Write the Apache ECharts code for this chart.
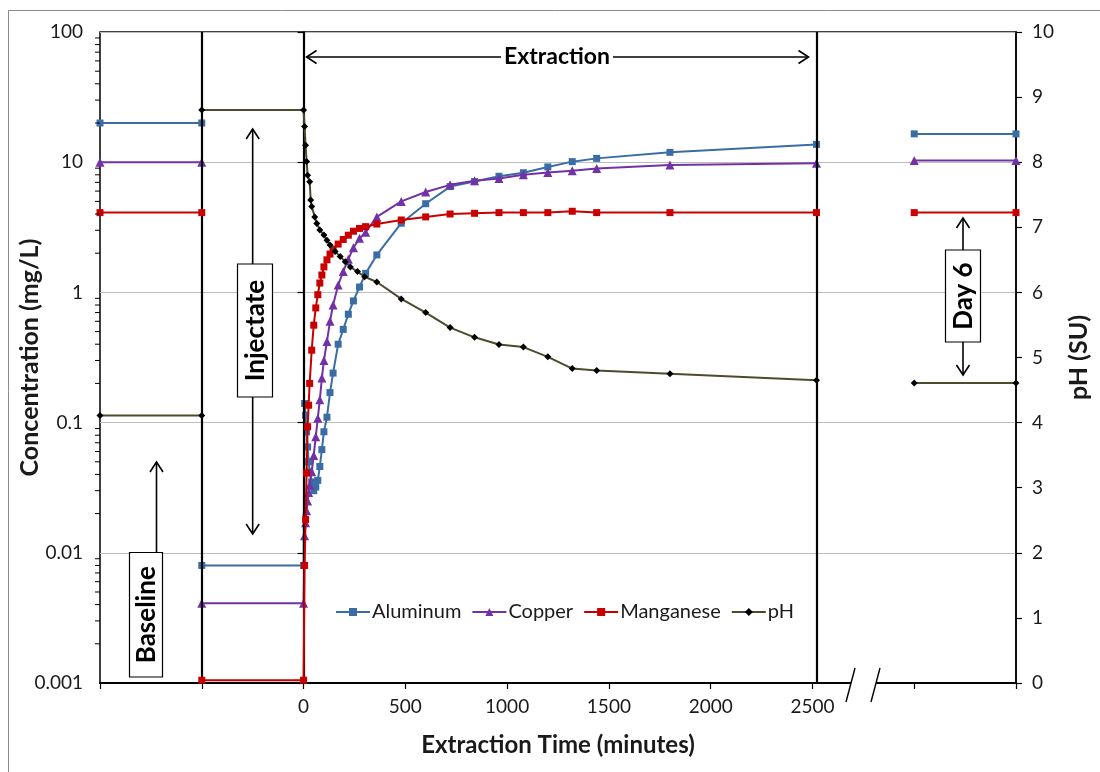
<!DOCTYPE html>
<html>
<head>
<meta charset="utf-8">
<script src="https://cdn.jsdelivr.net/npm/echarts@6/dist/echarts.min.js"></script>
<style>
  html, body { margin: 0; padding: 0; background: #fff; }
  #chart { width: 1100px; height: 772px; }
</style>
</head>
<body>
<div id="chart"></div>
<script>
// ---------------- data ----------------
const seriesNames = ['Aluminum', 'Copper', 'Manganese', 'pH'];

// segment times (minutes)
const baselineTime = [-1000, -500];
const injectateTime = [-500, 0];
const day6Time = [3000, 3500];

// levels per segment: [baseline, injectate, day 6]
const aluminumLevels = [20, 0.008, 16.5];
const copperLevels = [10, 0.0041, 10.3];
const manganeseLevels = [4.1, 0.00105, 4.1];
const phLevels = [4.11, 8.8, 4.61];

// extraction sampling (metals)
const metalTime = [5, 10, 15, 20, 25, 30, 40, 50, 60, 70, 80, 90, 100, 115, 130, 145, 170, 195, 220, 245, 275, 305, 360, 480, 600, 720, 840, 960, 1080, 1200, 1320, 1440, 1800, 2520];
const aluminum = [0.14, 0.114, 0.085, 0.065, 0.05, 0.042, 0.035, 0.03, 0.032, 0.036, 0.046, 0.062, 0.085, 0.11, 0.17, 0.24, 0.4, 0.52, 0.68, 0.86, 1.1, 1.4, 1.94, 3.4, 4.8, 6.5, 7.1, 7.8, 8.3, 9.2, 10.1, 10.7, 11.9, 13.7];
const copper = [0.0135, 0.017, 0.021, 0.025, 0.029, 0.033, 0.042, 0.056, 0.078, 0.108, 0.15, 0.22, 0.3, 0.42, 0.6, 0.8, 1.14, 1.45, 1.8, 2.2, 2.6, 2.9, 3.8, 5.0, 5.9, 6.7, 7.2, 7.5, 8.0, 8.35, 8.6, 8.95, 9.5, 9.8];
const manganese = [0.008, 0.018, 0.041, 0.093, 0.136, 0.2, 0.36, 0.56, 0.76, 0.96, 1.18, 1.36, 1.57, 1.78, 1.97, 2.15, 2.35, 2.55, 2.75, 2.95, 3.1, 3.2, 3.35, 3.6, 3.8, 4.0, 4.05, 4.1, 4.1, 4.1, 4.2, 4.1, 4.1, 4.1];

// extraction sampling (pH)
const phTime = [5, 10, 15, 20, 30, 35, 40, 55, 65, 80, 100, 115, 130, 155, 180, 205, 230, 265, 300, 360, 480, 600, 720, 840, 960, 1080, 1200, 1320, 1440, 1800, 2520];
const ph = [8.55, 8.26, 8.01, 7.8, 7.7, 7.42, 7.32, 7.16, 7.06, 6.96, 6.88, 6.8, 6.73, 6.63, 6.55, 6.47, 6.39, 6.32, 6.24, 6.16, 5.9, 5.69, 5.46, 5.31, 5.2, 5.16, 5.01, 4.83, 4.8, 4.75, 4.65];

// phase boundary lines (minutes)
const phaseLines = [-500, 0, 2520];
const xTickLabels = [0, 500, 1000, 1500, 2000, 2500];

// ---------------- styles ----------------
const FONT = 'Lato';
const colors = { Aluminum: '#3A6DA3', Copper: '#7232A6', Manganese: '#C80000', pH: '#4D4A2E' };
const symbols = { Aluminum: 'rect', Copper: 'triangle', Manganese: 'rect', pH: 'diamond' };
const symSize = { Aluminum: 7, Copper: 9, Manganese: 7, pH: 7 };

function pairs(t, v) { return t.map((x, i) => [x, v[i]]); }

function mkSeries(name, data, yIdx, z) {
  return {
    name, type: 'line', data, yAxisIndex: yIdx,
    symbol: symbols[name], symbolSize: symSize[name], showSymbol: true,
    lineStyle: { color: colors[name], width: 2 },
    itemStyle: { color: name === 'pH' ? '#000' : colors[name] },
    z, animation: false, clip: false
  };
}

const seriesList = [];
const metalDefs = [
  ['Aluminum', aluminumLevels, aluminum],
  ['Copper', copperLevels, copper],
  ['Manganese', manganeseLevels, manganese]
];
metalDefs.forEach(([name, lv, ext], k) => {
  const z = 3 + k;
  seriesList.push(mkSeries(name, pairs(baselineTime, [lv[0], lv[0]]), 0, z));
  seriesList.push(mkSeries(name, pairs(injectateTime, [lv[1], lv[1]]).concat(pairs(metalTime, ext)), 0, z));
  seriesList.push(mkSeries(name, pairs(day6Time, [lv[2], lv[2]]), 0, z));
});
seriesList.push(mkSeries('pH', pairs(baselineTime, [phLevels[0], phLevels[0]]), 1, 7));
seriesList.push(mkSeries('pH', pairs(injectateTime, [phLevels[1], phLevels[1]]).concat(pairs(phTime, ph)), 1, 7));
seriesList.push(mkSeries('pH', pairs(day6Time, [phLevels[2], phLevels[2]]), 1, 7));

// phase boundary lines
seriesList.push({
  type: 'line', data: [], z: 1, silent: true,
  markLine: {
    symbol: 'none', silent: true, animation: false,
    label: { show: false },
    lineStyle: { color: '#000', width: 2.2, type: 'solid' },
    data: phaseLines.map(v => ({ xAxis: v }))
  }
});

// log-axis minor ticks (2..9 per decade)
const minorVals = [];
for (let d = -3; d < 2; d++) for (let m = 2; m <= 9; m++) minorVals.push(m * Math.pow(10, d));
seriesList.push({
  type: 'custom', silent: true, z: 10, clip: false, animation: false,
  data: minorVals.map(v => [-1000, v]),
  encode: { x: 0, y: 1 },
  renderItem: (params, api) => {
    const p = api.coord([api.value(0), api.value(1)]);
    return { type: 'line', shape: { x1: p[0] - 5, y1: p[1], x2: p[0], y2: p[1] }, style: { stroke: '#000', lineWidth: 1 } };
  }
});

const chart = echarts.init(document.getElementById('chart'), null, { renderer: 'canvas' });

const TICK_FS = 19;
const option = {
  backgroundColor: '#fff',
  animation: false,
  textStyle: { fontFamily: FONT },
  grid: {
    left: 100, top: 32, width: 916, height: 651, containLabel: false, outerBoundsMode: 'none',
    show: true, borderColor: '#000', borderWidth: 1.5, backgroundColor: 'transparent'
  },
  legend: {
    data: seriesNames, left: 335, top: 602, padding: 0, itemWidth: 34, itemHeight: 10, itemGap: 10,
    textStyle: { fontFamily: FONT, fontSize: 20, color: '#1a1a1a', padding: [0, 0, 0, -3] }
  },
  xAxis: {
    type: 'value', min: -1000, max: 3500, interval: 500,
    name: 'Extraction Time (minutes)', nameLocation: 'middle', nameGap: 50, nameMoveOverlap: false,
    nameTextStyle: { fontFamily: FONT, fontWeight: 'bold', fontSize: 24, color: '#1a1a1a' },
    axisLine: { show: true, onZero: false, lineStyle: { color: '#000', width: 2 } },
    axisTick: { show: true, length: 6, lineStyle: { color: '#000', width: 1.2 } },
    axisLabel: {
      fontFamily: FONT, fontSize: TICK_FS, color: '#1a1a1a', margin: 14,
      formatter: v => (xTickLabels.indexOf(v) >= 0 ? String(v) : '')
    },
    splitLine: { show: false }
  },
  yAxis: [
    {
      type: 'log', logBase: 10, min: 0.001, max: 100,
      name: 'Concentration (mg/L)', nameLocation: 'middle', nameGap: 58, nameRotate: 90, nameMoveOverlap: false,
      nameTextStyle: { fontFamily: FONT, fontWeight: 'bold', fontSize: 25, color: '#1a1a1a' },
      axisLine: { show: true, lineStyle: { color: '#000', width: 1.5 } },
      axisTick: { show: true, length: 6, lineStyle: { color: '#000', width: 1.2 } },
      axisLabel: {
        fontFamily: FONT, fontSize: TICK_FS, color: '#1a1a1a', margin: 17,
        formatter: v => String(+v.toPrecision(3))
      },
      splitLine: { show: true, lineStyle: { color: '#BDBDBD', width: 1.2 } }
    },
    {
      type: 'value', min: 0, max: 10, interval: 1, position: 'right',
      name: 'pH (SU)', nameLocation: 'middle', nameGap: 50, nameRotate: 90, nameMoveOverlap: false,
      nameTextStyle: { fontFamily: FONT, fontWeight: 'bold', fontSize: 25, color: '#1a1a1a' },
      axisLine: { show: true, lineStyle: { color: '#000', width: 1.5 } },
      axisTick: { show: true, length: 6, lineStyle: { color: '#000', width: 1.2 } },
      axisLabel: { fontFamily: FONT, fontSize: TICK_FS, color: '#1a1a1a', margin: 16 },
      splitLine: { show: false }
    }
  ],
  series: seriesList
};
chart.setOption(option);

// ---------------- annotations ----------------
function arrowHead(x, y, dir) {
  const s = 10, w = 6.5;
  let pts;
  if (dir === 'up') pts = [[x - w, y + s], [x, y], [x + w, y + s]];
  if (dir === 'down') pts = [[x - w, y - s], [x, y], [x + w, y - s]];
  if (dir === 'left') pts = [[x + s, y - w], [x, y], [x + s, y + w]];
  if (dir === 'right') pts = [[x - s, y - w], [x, y], [x - s, y + w]];
  return { type: 'polyline', z: 100, shape: { points: pts }, style: { stroke: '#000', lineWidth: 1.6, fill: null } };
}
function vline(x, y1, y2) {
  return { type: 'line', z: 100, shape: { x1: x, y1, x2: x, y2 }, style: { stroke: '#000', lineWidth: 1.6 } };
}
function box(x, y, w, h, text, fontSize) {
  return [
    { type: 'rect', z: 100, shape: { x, y, width: w, height: h }, style: { fill: '#fff', stroke: '#000', lineWidth: 1.2 } },
    { type: 'text', z: 101, x: x + w / 2 + 1, y: y + h / 2, rotation: Math.PI / 2,
      style: { text, fontFamily: FONT, fontWeight: 'bold', fontSize, fill: '#000', textAlign: 'center', textVerticalAlign: 'middle' } }
  ];
}

const px = v => chart.convertToPixel({ xAxisIndex: 0 }, v);
const x0 = px(0), xEnd = px(2520), xInjMid = px(-250);
const axisY = 683;
const breakL = 851, breakR = 876;

const graphics = [
  { type: 'rect', z: 0, shape: { x: 8.5, y: 10.5, width: 1120, height: 800 }, style: { fill: null, stroke: '#8C8C8C', lineWidth: 1 } },
  { type: 'line', z: 100, shape: { x1: x0 + 3, y1: 57, x2: xEnd - 8, y2: 57 }, style: { stroke: '#000', lineWidth: 1.6 } },
  arrowHead(x0 + 3, 57, 'left'),
  arrowHead(xEnd - 8, 57, 'right'),
  { type: 'text', z: 101, x: 557, y: 57,
    style: { text: 'Extraction', fontFamily: FONT, fontWeight: 'bold', fontSize: 23, fill: '#000', textAlign: 'center', textVerticalAlign: 'middle', backgroundColor: '#fff', padding: [0, 3] } },
  vline(xInjMid, 129, 264), arrowHead(xInjMid, 129, 'up'),
  vline(xInjMid, 397, 534), arrowHead(xInjMid, 534, 'down'),
  ...box(237.5, 264, 35, 133, 'Injectate', 26),
  vline(156.5, 462, 552), arrowHead(156.5, 462, 'up'),
  ...box(129.5, 552.5, 33, 124.5, 'Baseline', 26),
  vline(963, 218, 250), arrowHead(963, 218, 'up'),
  vline(963, 342, 375), arrowHead(963, 375, 'down'),
  ...box(945.5, 250, 35, 92, 'Day 6', 26),
  { type: 'rect', z: 100, shape: { x: breakL, y: axisY - 4, width: breakR - breakL, height: 8 }, style: { fill: '#fff' } },
  { type: 'line', z: 101, shape: { x1: 855, y1: 668, x2: 846, y2: 702 }, style: { stroke: '#000', lineWidth: 1.4 } },
  { type: 'line', z: 101, shape: { x1: 880, y1: 668, x2: 871, y2: 702 }, style: { stroke: '#000', lineWidth: 1.4 } }
];
chart.setOption({ graphic: graphics });
</script>
</body>
</html>
